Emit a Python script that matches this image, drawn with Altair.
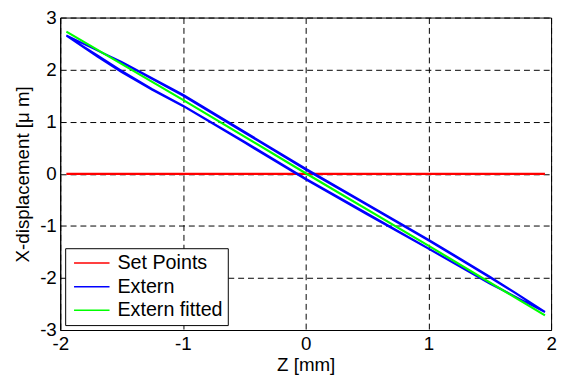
import altair as alt
import pandas as pd

# ---- data ----
series_names = ["Set Points", "Extern", "Extern fitted"]
series_colors = ["#ff0000", "#0000ff", "#00ff00"]

z_set = [-1.95, 1.95]
y_set = [0.0, 0.0]

# Extern: hysteresis loop, two cycles (lower branch left->right, upper branch right->left)
z_ext = [-1.95, -1.7, -1.5, -1.25, -1.0, -0.5, 0.0, 0.5, 1.0, 1.5, 1.95,
         1.7, 1.5, 1.0, 0.5, 0.0, -0.5, -1.0, -1.5, -1.95,
         -1.7, -1.5, -1.25, -1.0, -0.5, 0.0, 0.5, 1.0, 1.5, 1.95,
         1.7, 1.5, 1.0, 0.5, 0.0, -0.5, -1.0, -1.5, -1.95]
y_ext = [2.65, 2.25, 1.95, 1.61, 1.30, 0.60, -0.11, -0.78, -1.44, -2.11, -2.65,
         -2.27, -1.97, -1.26, -0.58, 0.10, 0.81, 1.52, 2.15, 2.65,
         2.28, 1.98, 1.63, 1.31, 0.62, -0.09, -0.76, -1.43, -2.10, -2.66,
         -2.28, -1.99, -1.28, -0.60, 0.08, 0.79, 1.50, 2.14, 2.66]

z_fit = [-1.95, -1.0, 0.0, 1.0, 1.95]
y_fit = [2.73, 1.42, 0.01, -1.38, -2.72]

x_ticks = [-2, -1, 0, 1, 2]
y_ticks = [-3, -2, -1, 0, 1, 2, 3]

# ---- tables ----
def table(zs, ys, name):
    return pd.DataFrame({"z": zs, "y": ys, "series": name, "idx": list(range(len(zs)))})

df_set = table(z_set, y_set, series_names[0])
df_ext = table(z_ext, y_ext, series_names[1])
df_fit = table(z_fit, y_fit, series_names[2])

FONT = "Liberation Sans"
FS = 19

x_enc = alt.X("z:Q", scale=alt.Scale(domain=[-2, 2], nice=False, zero=False),
              axis=alt.Axis(values=x_ticks, title="Z [mm]", labelExpr="datum.value + ''",
                            labelFlush=False, labelPadding=5, titlePadding=2))
y_enc = alt.Y("y:Q", scale=alt.Scale(domain=[-3, 3], nice=False, zero=False),
              axis=alt.Axis(values=y_ticks, title="X-displacement [\u03bc m]",
                            labelExpr="datum.value + ''", labelPadding=4, titlePadding=7))
color_enc = alt.Color(
    "series:N",
    scale=alt.Scale(domain=series_names, range=series_colors),
    legend=alt.Legend(
        title=None,
        orient="bottom-left",
        offset=5,
        padding=5,
        strokeColor="black",
        fillColor="white",
        symbolType="M-1,0L5,0",
        symbolSize=144,
        symbolStrokeWidth=1.5,
        labelOffset=28,
        labelFont=FONT,
        labelFontSize=20,
        labelColor="black",
        rowPadding=4,
    ),
)

def layer(df, width):
    return alt.Chart(df).mark_line(strokeWidth=width).encode(
        x=x_enc, y=y_enc, color=color_enc, order="idx:Q"
    )

chart = alt.layer(
    layer(df_set, 2.2),
    layer(df_ext, 1.8),
    layer(df_fit, 2.2),
).properties(
    width=498,
    height=317,
    autosize=alt.AutoSizeParams(type="none"),
    padding={"left": 53, "top": 7, "right": 7, "bottom": 48},
).configure_view(
    stroke="black", strokeWidth=1, fill="white"
).configure_axis(
    labelFont=FONT, labelFontSize=FS, labelColor="black",
    titleFont=FONT, titleFontSize=FS, titleFontWeight="normal", titleColor="black",
    domainColor="black", domainWidth=1,
    grid=True, gridColor="black", gridDash=[6, 4], gridWidth=1, gridOpacity=1,
    ticks=False,
)

chart.save("out.html", embed_options={"renderer": "svg", "actions": False})
